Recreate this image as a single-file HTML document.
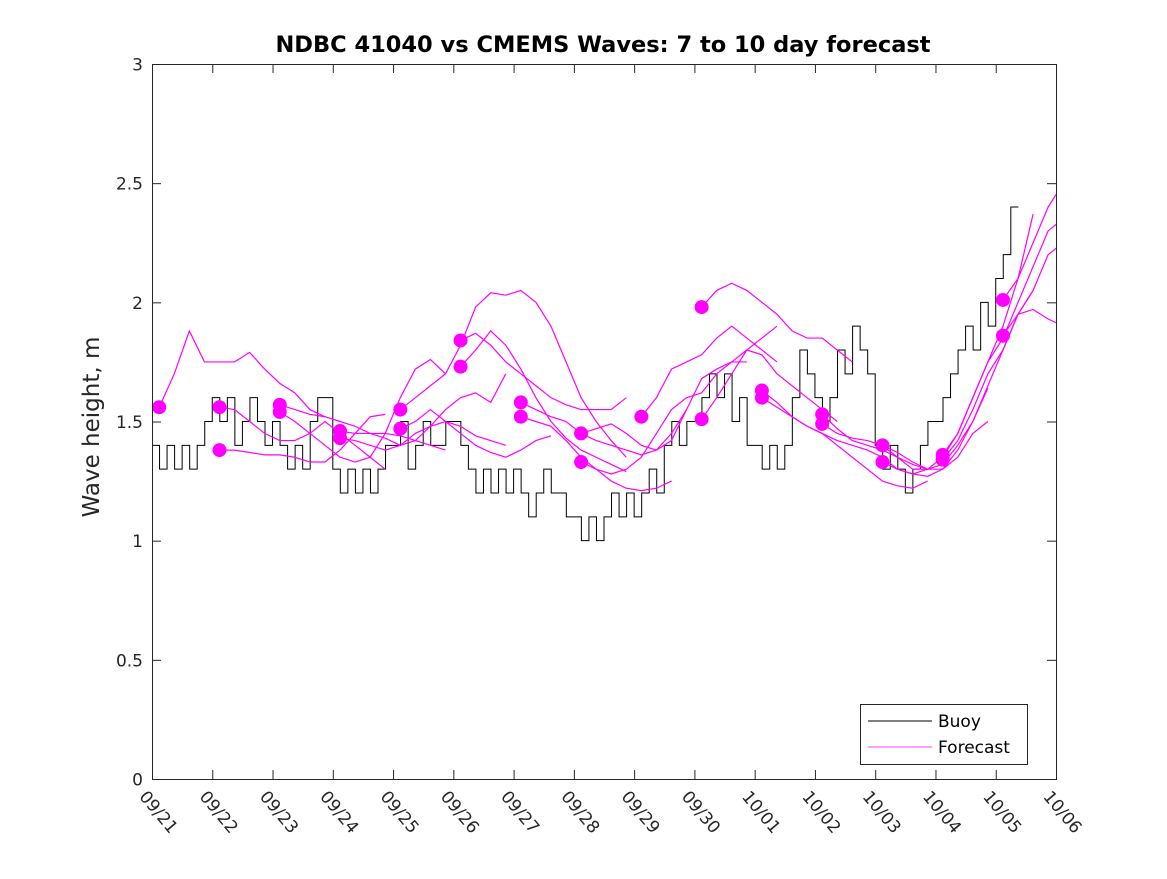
<!DOCTYPE html>
<html><head><meta charset="utf-8"><style>
body{margin:0;background:#fff;width:1167px;height:875px;overflow:hidden;font-family:"DejaVu Sans",sans-serif}
</style></head><body>
<svg id="chart" width="1167" height="875" xmlns="http://www.w3.org/2000/svg" font-family="DejaVu Sans, Liberation Sans, sans-serif">
<defs><clipPath id="pc"><rect x="152" y="64" width="904" height="715"/></clipPath></defs>
<rect width="1167" height="875" fill="#fff"/>
<text x="603" y="52" text-anchor="middle" font-size="22.5" font-weight="bold" fill="#000">NDBC 41040 vs CMEMS Waves: 7 to 10 day forecast</text>
<text transform="translate(99,427) rotate(-90)" text-anchor="middle" font-size="23" fill="#262626">Wave height, m</text>
<g id="axes"></g>
<g id="series" clip-path="url(#pc)"></g>
<rect x="152.5" y="64.5" width="904" height="715" fill="none" stroke="#262626" stroke-width="1"/>
<g>
<rect x="860.5" y="704.5" width="167" height="60" fill="#fff" stroke="#262626"/>
<line x1="868" y1="721" x2="932" y2="721" stroke="#000"/>
<text x="938" y="727" font-size="17" fill="#000">Buoy</text>
<line x1="868" y1="747" x2="932" y2="747" stroke="#ff00ff" stroke-width="0.8"/>
<text x="938" y="753" font-size="17" fill="#000">Forecast</text>
</g>
</svg>
<script>
const xTickLabels=["09/21","09/22","09/23","09/24","09/25","09/26","09/27","09/28","09/29","09/30","10/01","10/02","10/03","10/04","10/05","10/06"];
const yTicks=[0,0.5,1,1.5,2,2.5,3];
const yTickLabels=["0","0.5","1","1.5","2","2.5","3"];
// buoy values, 3-hourly from 09/21 00:00
const buoyValues=[
1.4,1.3,1.4,1.3,1.4,1.3,1.4,1.5,
1.6,1.5,1.6,1.4,1.5,1.6,1.5,1.4,
1.5,1.4,1.3,1.4,1.3,1.5,1.6,1.6,
1.3,1.2,1.3,1.2,1.3,1.2,1.3,1.4,
1.4,1.5,1.3,1.4,1.5,1.4,1.4,1.5,
1.5,1.4,1.3,1.2,1.3,1.2,1.3,1.2,
1.3,1.2,1.1,1.2,1.3,1.2,1.2,1.1,
1.1,1.0,1.1,1.0,1.1,1.2,1.1,1.2,
1.1,1.2,1.3,1.2,1.4,1.5,1.4,1.5,
1.5,1.6,1.7,1.6,1.7,1.5,1.6,1.4,
1.4,1.3,1.4,1.3,1.4,1.6,1.8,1.7,
1.6,1.5,1.6,1.8,1.7,1.9,1.8,1.7,
1.4,1.3,1.4,1.3,1.2,1.3,1.4,1.5,
1.5,1.6,1.7,1.8,1.9,1.8,2.0,1.9,
2.1,2.2,2.4];
// forecast starts (day offset from 09/21) and 6-hourly values
const fcStarts=[0.12,1.12,1.12,2.12,2.12,3.12,3.12,4.12,4.12,5.12,5.12,6.12,6.12,7.12,7.12,8.12,9.12,9.12,10.12,10.12,11.12,11.12,12.12,12.12,13.12,13.12,14.12,14.12];
const fcSeries=[
[1.56,1.7,1.88,1.75,1.75,1.75,1.79,1.72,1.66,1.62,1.55,1.52],
[1.38,1.38,1.37,1.36,1.36,1.35,1.33,1.33,1.38,1.45,1.52,1.53],
[1.56,1.55,1.5,1.45,1.42,1.42,1.45,1.5,1.45,1.4,1.35,1.3],
[1.57,1.55,1.53,1.52,1.5,1.48,1.45,1.45,1.44,1.42,1.4,1.38],
[1.54,1.5,1.45,1.4,1.35,1.33,1.35,1.45,1.6,1.72,1.76,1.7],
[1.46,1.45,1.45,1.43,1.4,1.42,1.48,1.55,1.6,1.62,1.58,1.7],
[1.43,1.42,1.4,1.38,1.4,1.45,1.48,1.5,1.48,1.44,1.42,1.4],
[1.55,1.6,1.65,1.7,1.82,1.98,2.04,2.03,2.05,2.0,1.9,1.75,1.6,1.5,1.42,1.35],
[1.47,1.5,1.55,1.5,1.45,1.4,1.37,1.35,1.38,1.42,1.44],
[1.84,1.87,1.82,1.75,1.7,1.65,1.6,1.57,1.55,1.55,1.55,1.6],
[1.73,1.8,1.88,1.82,1.72,1.6,1.5,1.43,1.38,1.35,1.32,1.29],
[1.58,1.55,1.52,1.5,1.45,1.42,1.4,1.38,1.36,1.38,1.45,1.55],
[1.52,1.5,1.48,1.42,1.35,1.3,1.25,1.22,1.21,1.22,1.25],
[1.45,1.47,1.49,1.45,1.4,1.38,1.42,1.55,1.68,1.72,1.75,1.8,1.85,1.9],
[1.33,1.3,1.28,1.3,1.35,1.45,1.55,1.6,1.62,1.7,1.75,1.75],
[1.52,1.6,1.72,1.75,1.78,1.85,1.9,1.85,1.8,1.75],
[1.98,2.05,2.08,2.05,2.0,1.95,1.88,1.85,1.85,1.8,1.75],
[1.51,1.6,1.7,1.8,1.78,1.7,1.65,1.6,1.55,1.5],
[1.63,1.58,1.52,1.48,1.45,1.4,1.35,1.3,1.25,1.23,1.22,1.25],
[1.60,1.56,1.52,1.48,1.45,1.42,1.4,1.38,1.35,1.3,1.28,1.3],
[1.53,1.47,1.42,1.4,1.38,1.35,1.32,1.3,1.32,1.4,1.5,1.64],
[1.49,1.45,1.43,1.42,1.4,1.37,1.33,1.3,1.3,1.35,1.45,1.5],
[1.40,1.35,1.3,1.3,1.35,1.45,1.6,1.75,1.9,2.1,2.37],
[1.33,1.3,1.28,1.27,1.3,1.38,1.5,1.65,1.8,1.95,2.05],
[1.36,1.45,1.6,1.75,1.85,2.0,2.15,2.3,2.35,2.25,2.15,2.05,1.95],
[1.34,1.42,1.55,1.7,1.8,1.95,2.05,2.2,2.25,2.2,2.1,1.95],
[2.01,2.1,2.25,2.4,2.5,2.52],
[1.86,1.95,1.97,1.93,1.9,1.85,1.8,1.77,1.77]];
const NS="http://www.w3.org/2000/svg";
const X0=152,X1=1056,Y0=779,Y1=64;
const xs=d=>X0+d*(X1-X0)/15;
const ys=v=>Y0-v*(Y0-Y1)/3;
const axes=document.getElementById('axes'),ser=document.getElementById('series');
function mk(tag,attrs,parent){const e=document.createElementNS(NS,tag);for(const k in attrs)e.setAttribute(k,attrs[k]);parent.appendChild(e);return e;}
yTicks.forEach((v,i)=>{
  const y=ys(v)+0.5;
  const t=mk('line',{x1:X0,y1:y,x2:X0+9,y2:y,stroke:'#262626'},axes);
  
  
  const t2=mk('line',{x1:X1-9,y1:y,x2:X1,y2:y,stroke:'#262626'},axes);
  
  
  const l=mk('text',{x:X0-9,y:y+6,'text-anchor':'end','font-size':'17',fill:'#262626'},axes);
  l.textContent=yTickLabels[i];
  
  
});
xTickLabels.forEach((s,i)=>{
  const x=xs(i)+0.5;
  const t=mk('line',{x1:x,y1:Y0,x2:x,y2:Y0-9,stroke:'#262626'},axes);
  
  
  const t2=mk('line',{x1:x,y1:Y1,x2:x,y2:Y1+9,stroke:'#262626'},axes);
  
  
  const l=mk('text',{transform:`translate(${x-14},${Y0+18}) rotate(50)`,'font-size':'17',fill:'#262626'},axes);
  l.textContent=s;
  
  
});
let d='';
buoyValues.forEach((v,i)=>{const xa=xs(i/8),xb=xs((i+1)/8),y=ys(v);d+=(i?'L':'M')+xa+','+y+'L'+xb+','+y;});
const bp=mk('path',{d:d,fill:'none',stroke:'#000','stroke-width':1},ser);


fcSeries.forEach((vals,k)=>{
  const st=fcStarts[k];
  const pts=vals.map((v,j)=>xs(st+j*0.25)+','+ys(v)).join(' ');
  const p=mk('polyline',{points:pts,fill:'none',stroke:'#ff00ff','stroke-width':1.2},ser);
  
  
});
fcSeries.forEach((vals,k)=>{
  const c=mk('circle',{cx:xs(fcStarts[k]),cy:ys(vals[0]),r:7,fill:'#ff00ff'},ser);
  
  
});
</script>
</body></html>
